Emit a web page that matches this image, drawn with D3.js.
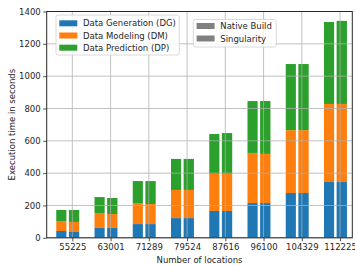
<!DOCTYPE html>
<html><head><meta charset="utf-8">
<script src="https://cdn.jsdelivr.net/npm/d3@7"></script>
<style>body{margin:0;background:#fff}svg{display:block}text{font-family:"DejaVu Sans",sans-serif;fill:#262626}</style>
</head><body><svg id="c" width="355" height="265"></svg>
<script>
const categories = ["55225","63001","71289","79524","87616","96100","104329","112225"];
const nativeDG = [42, 61, 85, 122, 166, 215, 277, 345];
const nativeDM = [62, 92, 130, 174, 229, 310, 389, 483];
const nativeDP = [68, 99, 136, 192, 247, 321, 409, 507];
const singDG = [36, 61, 85, 122, 166, 215, 277, 345];
const singDM = [62, 86, 124, 174, 229, 304, 389, 483];
const singDP = [74, 99, 142, 192, 253, 327, 409, 514];
const yTicks = [0, 200, 400, 600, 800, 1000, 1200, 1400];
const seriesNames = ["Data Generation (DG)", "Data Modeling (DM)", "Data Prediction (DP)"];
const buildNames = ["Native Build", "Singularity"];
const colors = ["#1f77b4", "#ff7f0e", "#2ca02c"];

const svg = d3.select("#c");
const L = 46.7, R = 352.3, T = 11.5, B = 237.8;
const x = d3.scaleLinear().domain([-0.67, 7.32]).range([L, R]);
const y = d3.scaleLinear().domain([0, 1400]).range([B, T]);
const FS = "8.5px";

const builds = [
  {name: "Native Build", off: [-0.42, -0.155], parts: [nativeDG, nativeDM, nativeDP]},
  {name: "Singularity", off: [-0.09, 0.18], parts: [singDG, singDM, singDP]}
];
const bars = [];
builds.forEach(b => {
  categories.forEach((c, i) => {
    let base = 0;
    b.parts.forEach((arr, k) => {
      bars.push({i, k, y0: base, y1: base + arr[i], off: b.off});
      base += arr[i];
    });
  });
});
svg.append("g").selectAll("rect").data(bars).join("rect")
  .attr("x", d => x(d.i + d.off[0]))
  .attr("width", d => x(d.i + d.off[1]) - x(d.i + d.off[0]))
  .attr("y", d => y(d.y1))
  .attr("height", d => y(d.y0) - y(d.y1))
  .attr("fill", d => colors[d.k]);

// grid (drawn above bars)
const grid = svg.append("g").attr("stroke", "#b0b0b0").attr("stroke-width", 0.9).attr("opacity", 0.85);
categories.forEach((c, i) => grid.append("line").attr("x1", x(i)).attr("x2", x(i)).attr("y1", T).attr("y2", B));
yTicks.forEach(t => grid.append("line").attr("x1", L).attr("x2", R).attr("y1", y(t)).attr("y2", y(t)));

// axes
const xAxis = d3.axisBottom(x).tickValues(d3.range(categories.length)).tickFormat(i => categories[i]).tickSize(3.5).tickPadding(2.5);
const gx = svg.append("g").attr("transform", `translate(0,${B})`).call(xAxis);
gx.select(".domain").remove();
gx.selectAll("text").style("font-size", FS).style("font-family", "DejaVu Sans").attr("fill", "#262626");
gx.selectAll("line").attr("stroke", "#262626").attr("stroke-width", 0.8);
const yAxis = d3.axisLeft(y).tickValues(yTicks).tickFormat(d3.format("d")).tickSize(3.5).tickPadding(2.5);
const gy = svg.append("g").attr("transform", `translate(${L},0)`).call(yAxis);
gy.select(".domain").remove();
gy.selectAll("text").style("font-size", FS).style("font-family", "DejaVu Sans").attr("fill", "#262626");
gy.selectAll("line").attr("stroke", "#262626").attr("stroke-width", 0.8);

svg.append("rect").attr("x", L).attr("y", T).attr("width", R - L).attr("height", B - T)
  .attr("fill", "none").attr("stroke", "#262626").attr("stroke-width", 1);

svg.append("text").attr("x", (L + R) / 2).attr("y", 259.5).attr("text-anchor", "middle")
  .attr("dominant-baseline", "central").style("font-size", FS).text("Number of locations");
svg.append("text").attr("transform", `translate(11.5,${(T + B) / 2}) rotate(-90)`).attr("text-anchor", "middle")
  .attr("dominant-baseline", "central").style("font-size", FS).text("Execution time in seconds");

// legends
function legend(x0, y0, w, h, rowY, names, fills) {
  const g = svg.append("g");
  g.append("rect").attr("x", x0).attr("y", y0).attr("width", w).attr("height", h).attr("rx", 2)
    .attr("fill", "#fff").attr("fill-opacity", 0.8).attr("stroke", "#d0d0d0").attr("stroke-width", 0.8);
  names.forEach((n, i) => {
    g.append("rect").attr("x", x0 + 3.3).attr("y", rowY[i] - 3).attr("width", 18).attr("height", 6).attr("fill", fills[i]);
    g.append("text").attr("x", x0 + 27).attr("y", rowY[i]).attr("dominant-baseline", "central")
      .style("font-size", FS).text(n);
  });
}
legend(56, 15, 123.3, 40, [23.3, 35.5, 47.7], seriesNames, colors);
legend(193.3, 19.5, 83, 27.5, [26, 38.5], buildNames, ["#808080", "#808080"]);
</script></body></html>
